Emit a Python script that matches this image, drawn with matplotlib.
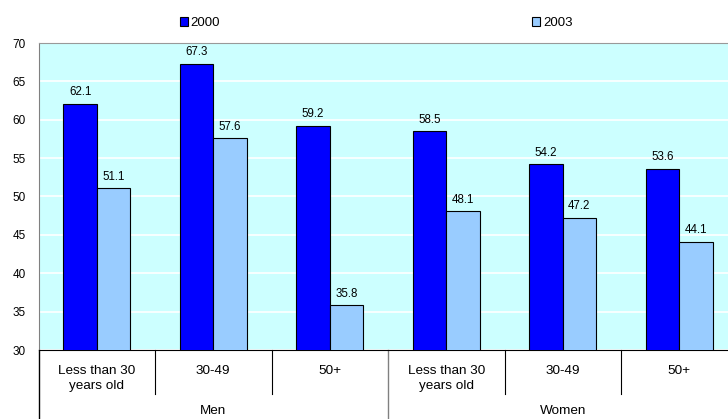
import matplotlib
matplotlib.use("Agg")
import matplotlib.pyplot as plt
import numpy as np
from matplotlib.transforms import blended_transform_factory

plt.rcParams["font.family"] = ["Liberation Sans", "DejaVu Sans"]

groups = ["Men", "Women"]
age_bands = ["Less than 30\nyears old", "30-49", "50+"]
years = ["2000", "2003"]
vals_2000 = [62.1, 67.3, 59.2, 58.5, 54.2, 53.6]
vals_2003 = [51.1, 57.6, 35.8, 48.1, 47.2, 44.1]

colors = ["#0000FF", "#99CCFF"]
bg = "#CCFFFF"

fig = plt.figure(figsize=(7.28, 4.19), dpi=100)
# plot area runs slightly past the right edge of the figure
ax = fig.add_axes([38.5 / 728, 69 / 419, 699 / 728, 307 / 419])
ax.set_facecolor(bg)

x = np.arange(len(vals_2000))
w = 0.286
b1 = ax.bar(x - w / 2, vals_2000, w, color=colors[0], edgecolor="black", linewidth=0.8,
            label=years[0], zorder=3)
b2 = ax.bar(x + w / 2, vals_2003, w, color=colors[1], edgecolor="black", linewidth=0.8,
            label=years[1], zorder=3)

for bars, vals in ((b1, vals_2000), (b2, vals_2003)):
    for r, v in zip(bars, vals):
        ax.annotate(f"{v:.1f}", (r.get_x() + r.get_width() / 2, v), xytext=(0, 4),
                    textcoords="offset points", ha="center", va="bottom", fontsize=8.3)

ax.set_ylim(30, 70)
ax.set_xlim(-0.5, len(x) - 0.5)
ax.set_yticks(range(30, 71, 5))
ax.yaxis.grid(True, color="white", linewidth=1.2, zorder=0)
ax.set_axisbelow(True)
ax.tick_params(axis="y", length=0, pad=9, labelsize=8.5)
ax.set_xticks([])

ax.spines["right"].set_visible(False)
ax.spines["top"].set_color("#999999")
ax.spines["left"].set_color("#808080")
ax.spines["bottom"].set_color("black")

# two-level category axis below the plot
tr = blended_transform_factory(ax.transData, ax.transAxes)
px = 1 / 307
for i in range(len(x)):
    ax.text(i, -14.5 * px, age_bands[i % 3], transform=tr, ha="center", va="top",
            fontsize=9.7, linespacing=1.35)
for i in range(1, len(x)):
    if i % 3 == 0:
        ax.plot([i - 0.5, i - 0.5], [0, -69 * px], transform=tr, color="#808080",
                linewidth=1, clip_on=False)
    else:
        ax.plot([i - 0.5, i - 0.5], [0, -44 * px], transform=tr, color="black",
                linewidth=0.8, clip_on=False)
ax.plot([-0.5, -0.5], [0, -69 * px], transform=tr, color="black", linewidth=1, clip_on=False)
for g, name in enumerate(groups):
    ax.text(g * 3 + 1, -64 * px, name, transform=tr, ha="center", va="baseline", fontsize=9.7)

fig.legend(handles=[b1, b2], labels=years, loc="center", bbox_to_anchor=(376 / 728, 1 - 23 / 419),
           ncol=2, frameon=False, fontsize=9.5, handlelength=0.6, handleheight=0.6,
           handletextpad=0.2, columnspacing=23.7)

fig.savefig("out.png", dpi=100)
